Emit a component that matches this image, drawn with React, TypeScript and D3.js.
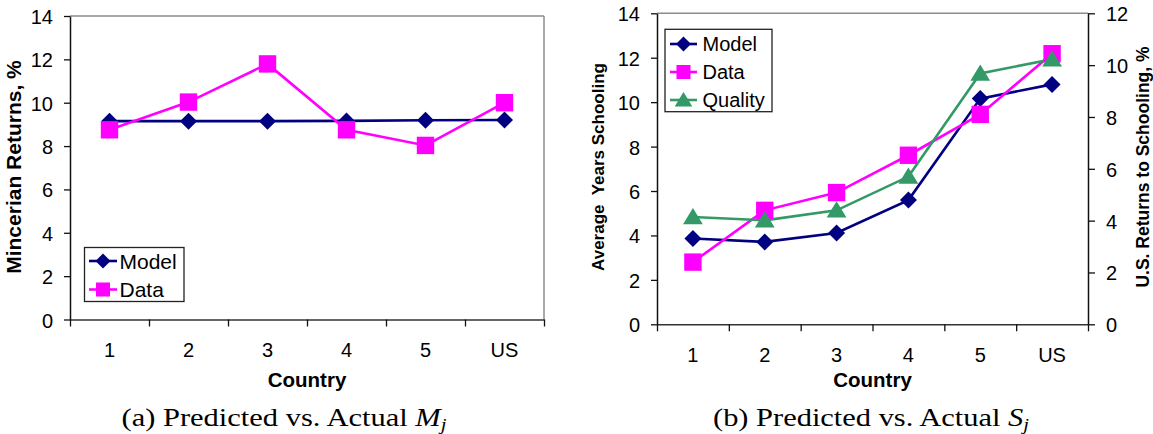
import { useEffect, useRef } from 'react';
import * as d3 from 'd3';

const countries = ['1', '2', '3', '4', '5', 'US'];
const leftTicks = [0, 2, 4, 6, 8, 10, 12, 14];
const rightTicks = [0, 2, 4, 6, 8, 10, 12];

// panel (a): Mincerian returns
const mincerModel = [9.15, 9.15, 9.15, 9.16, 9.19, 9.2];
const mincerData = [8.75, 10.03, 11.79, 8.75, 8.03, 10.0];

// panel (b): average years of schooling
const schoolModel = [3.86, 3.71, 4.11, 5.59, 10.16, 10.8];
const schoolData = [2.8, 5.13, 5.93, 7.61, 9.45, 12.18];
const schoolQuality = [4.83, 4.68, 5.13, 6.65, 11.29, 11.93];

const SANS = '"Liberation Sans", Arial, sans-serif';
const SERIF = '"Liberation Serif", "Times New Roman", serif';

const NAVY = '#000080';
const MAGENTA = '#FF00FF';
const GREEN = '#339966';

type Series = { name: string; values: number[]; color: string; marker: 'diamond' | 'square' | 'triangle' };

const markerPath = (kind: string, s: number) => {
  if (kind === 'diamond') return `M0,${-s}L${s},0L0,${s}L${-s},0Z`;
  if (kind === 'square') return `M${-s},${-s}H${s}V${s}H${-s}Z`;
  return `M0,${-s}L${s * 1.1},${s * 0.8}L${-s * 1.1},${s * 0.8}Z`;
};

const drawMarker = (g: any, kind: string, x: number, y: number, color: string, big: boolean) => {
  const s = kind === 'diamond' ? (big ? 8.5 : 7.5) : kind === 'square' ? (big ? 8.7 : 7) : big ? 9 : 8;
  g.append('path')
    .attr('d', markerPath(kind, s))
    .attr('transform', `translate(${x},${y})`)
    .attr('fill', color);
};

type Panel = {
  x0: number; x1: number; top: number; bottom: number;
  series: Series[];
  yLabel: string; yLabelX: number; yLabelSize: number;
  rightAxis: boolean;
  legend: { x0: number; x1: number; y0: number; y1: number; rows: number[]; fontSize: number; lineX0: number; lineX1: number; textX: number };
  caption: string; captionVar: string; captionX: number; captionWidth: number;
};

const drawPanel = (svg: any, p: Panel) => {
  const x = d3.scaleBand().domain(countries).range([p.x0, p.x1]);
  const xi = d3.scaleLinear().domain([0, countries.length]).range([p.x0, p.x1]);
  const y = d3.scaleLinear().domain([0, 14]).range([p.bottom, p.top]);
  const cx = (i: number) => (x(countries[i]) as number) + x.bandwidth() / 2;

  // top / right frame
  svg.append('line').attr('x1', p.x0).attr('x2', p.x1).attr('y1', p.top).attr('y2', p.top)
    .attr('stroke', '#8c8c8c').attr('stroke-width', 1.5);
  if (!p.rightAxis) {
    svg.append('line').attr('x1', p.x1).attr('x2', p.x1).attr('y1', p.top).attr('y2', p.bottom)
      .attr('stroke', '#8c8c8c').attr('stroke-width', 1.5);
  }

  const styleAxis = (g: any) => {
    g.select('.domain').attr('stroke', '#111').attr('stroke-width', 1.5);
    g.selectAll('.tick line').attr('stroke', '#111').attr('stroke-width', 1.3);
    g.selectAll('.tick text').attr('fill', '#000').attr('font-size', 20).attr('font-family', SANS).attr('dy', 7.5);
  };

  svg.append('g')
    .attr('transform', `translate(${p.x0},0)`)
    .call(d3.axisLeft(y).tickValues(leftTicks).tickSize(6).tickSizeOuter(0).tickPadding(11))
    .call(styleAxis);

  if (p.rightAxis) {
    const y2 = d3.scaleLinear().domain([0, 12]).range([p.bottom, p.top]);
    svg.append('g')
      .attr('transform', `translate(${p.x1},0)`)
      .call(d3.axisRight(y2).tickValues(rightTicks).tickSize(7).tickSizeOuter(0).tickPadding(11))
      .call(styleAxis);
  }

  const xAxis = svg.append('g')
    .attr('transform', `translate(0,${p.bottom})`)
    .call(d3.axisBottom(xi).tickValues(d3.range(countries.length + 1)).tickFormat(() => '').tickSize(7).tickSizeOuter(0))
    .call(styleAxis);
  xAxis.select('.domain').attr('stroke', '#333');

  svg.append('g').selectAll('text').data(countries).join('text')
    .attr('x', (_: string, i: number) => cx(i))
    .attr('y', p.bottom + 37.8)
    .attr('text-anchor', 'middle')
    .attr('font-family', SANS).attr('font-size', 20)
    .text((d: string) => d);

  svg.append('text')
    .attr('x', (p.x0 + p.x1) / 2).attr('y', 387)
    .attr('text-anchor', 'middle')
    .attr('font-family', SANS).attr('font-weight', 'bold').attr('font-size', 20.5)
    .text('Country');

  svg.append('text')
    .attr('transform', `translate(${p.yLabelX},167) rotate(-90)`)
    .attr('text-anchor', 'middle')
    .attr('font-family', SANS).attr('font-weight', 'bold').attr('font-size', p.yLabelSize)
    .style('white-space', 'pre')
    .text(p.yLabel);

  // series
  const line = d3.line<number>().x((_, i) => cx(i)).y(d => y(d));
  p.series.forEach(s => {
    svg.append('path').datum(s.values)
      .attr('d', line)
      .attr('fill', 'none')
      .attr('stroke', s.color)
      .attr('stroke-width', 2.6);
  });
  p.series.forEach(s => {
    const g = svg.append('g');
    s.values.forEach((v, i) => drawMarker(g, s.marker, cx(i), y(v), s.color, true));
  });

  // legend
  const L = p.legend;
  svg.append('rect')
    .attr('x', L.x0).attr('y', L.y0).attr('width', L.x1 - L.x0).attr('height', L.y1 - L.y0)
    .attr('fill', '#fff').attr('stroke', '#222').attr('stroke-width', 1.3);
  p.series.forEach((s, i) => {
    const ly = L.rows[i];
    svg.append('line').attr('x1', L.lineX0).attr('x2', L.lineX1).attr('y1', ly).attr('y2', ly)
      .attr('stroke', s.color).attr('stroke-width', 2.6);
    drawMarker(svg, s.marker, (L.lineX0 + L.lineX1) / 2, ly, s.color, false);
    svg.append('text')
      .attr('x', L.textX).attr('y', ly + L.fontSize * 0.36)
      .attr('font-family', SANS).attr('font-size', L.fontSize)
      .text(s.name);
  });

  // caption (stretched glyphs to mimic the wider LaTeX serif)
  const cap = svg.append('text')
    .attr('x', p.captionX).attr('y', 426)
    .attr('text-anchor', 'middle')
    .attr('font-family', SERIF).attr('font-size', 25)
    .attr('textLength', p.captionWidth)
    .attr('lengthAdjust', 'spacingAndGlyphs');
  cap.append('tspan').style('white-space', 'pre').text(p.caption);
  cap.append('tspan').attr('font-style', 'italic').text(p.captionVar);
  cap.append('tspan').attr('font-style', 'italic').attr('font-size', 17).attr('dy', 4).text('j');
};

const App = () => {
  const svgRef = useRef<SVGSVGElement>(null);

  useEffect(() => {
    const svg = d3.select(svgRef.current);
    svg.selectAll('*').remove();

    drawPanel(svg, {
      x0: 70, x1: 544, top: 16, bottom: 319.5,
      series: [
        { name: 'Model', values: mincerModel, color: NAVY, marker: 'diamond' },
        { name: 'Data', values: mincerData, color: MAGENTA, marker: 'square' },
      ],
      yLabel: 'Mincerian Returns, %', yLabelX: 20.7, yLabelSize: 21,
      rightAxis: false,
      legend: { x0: 84.5, x1: 184, y0: 247.5, y1: 301.5, rows: [261, 289.5], fontSize: 21, lineX0: 89, lineX1: 117, textX: 119.5 },
      caption: '(a) Predicted vs. Actual ', captionVar: 'M', captionX: 284, captionWidth: 325,
    });

    drawPanel(svg, {
      x0: 657, x1: 1088, top: 13.3, bottom: 324.3,
      series: [
        { name: 'Model', values: schoolModel, color: NAVY, marker: 'diamond' },
        { name: 'Data', values: schoolData, color: MAGENTA, marker: 'square' },
        { name: 'Quality', values: schoolQuality, color: GREEN, marker: 'triangle' },
      ],
      yLabel: 'Average  Years Schooling', yLabelX: 604, yLabelSize: 17,
      rightAxis: true,
      legend: { x0: 665, x1: 772, y0: 29.3, y1: 111.7, rows: [44, 72, 100], fontSize: 20, lineX0: 670, lineX1: 697, textX: 702.5 },
      caption: '(b) Predicted vs. Actual ', captionVar: 'S', captionX: 871, captionWidth: 316,
    });

    svg.append('text')
      .attr('transform', 'translate(1149,167) rotate(-90)')
      .attr('text-anchor', 'middle')
      .attr('font-family', SANS).attr('font-weight', 'bold').attr('font-size', 17.5)
      .text('U.S. Returns to Schooling, %');
  }, []);

  return (
    <svg ref={svgRef} width={1153} height={434}
      style={{ position: 'absolute', left: 0, top: 0, background: '#fff' }} />
  );
};

export default App;
